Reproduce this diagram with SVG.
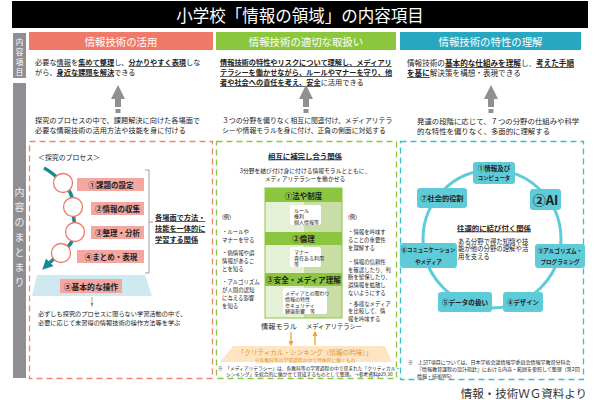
<svg xmlns="http://www.w3.org/2000/svg" width="600" height="400" viewBox="0 0 600 400">
<style>
text{font-family:"Noto Sans CJK JP","Noto Sans",sans-serif;dominant-baseline:central;fill:#222}
.b{font-weight:bold}
.u{text-decoration:underline}
.w{fill:#fff}
.hd{font-size:10.4px;fill:#fff;text-anchor:middle}
.m{text-anchor:middle}
.lab{fill:#f4a7a1}
.node{fill:#5ecbd9}
.gh{fill:#8cc63f}
.ex{font-size:5.4px}
.sb{font-size:10px;fill:#eee;text-anchor:middle}
</style>
<defs>
<marker id="ta" viewBox="0 0 10 10" refX="5" refY="5" markerWidth="3" markerHeight="3" orient="auto"><path d="M0,0 L10,5 L0,10 Z" fill="#178a94"/></marker>
<marker id="ga" viewBox="0 0 10 10" refX="8" refY="5" markerWidth="5" markerHeight="5" orient="auto"><path d="M0,1 L10,5 L0,9 Z" fill="#909090"/></marker>
<marker id="oa" viewBox="0 0 10 10" refX="8" refY="5" markerWidth="4" markerHeight="4" orient="auto"><path d="M0,0 L10,5 L0,10 Z" fill="#f0a030"/></marker>
</defs>
<rect width="600" height="400" fill="#fff"/>
<g id="title">
<rect x="12" y="1" width="576" height="27" fill="#000"/>
<text x="300" y="15" class="w m" style="font-size:16.5px">小学校「情報の領域」の内容項目</text>
</g>
<g id="sidebar">
<rect x="13" y="33" width="13" height="45" fill="#8e8e93"/>
<text class="w m" style="font-size:7.5px" x="19.5" y="41">内</text>
<text class="w m" style="font-size:7.5px" x="19.5" y="51">容</text>
<text class="w m" style="font-size:7.5px" x="19.5" y="61">項</text>
<text class="w m" style="font-size:7.5px" x="19.5" y="71">目</text>
<rect x="13" y="83" width="13" height="295" fill="#8e8e93"/>
<text class="sb" x="19.5" y="191">内</text>
<text class="sb" x="19.5" y="206">容</text>
<text class="sb" x="19.5" y="221">の</text>
<text class="sb" x="19.5" y="236">ま</text>
<text class="sb" x="19.5" y="251">と</text>
<text class="sb" x="19.5" y="266">ま</text>
<text class="sb" x="19.5" y="281">り</text>
</g>
<g id="col-left">
<rect x="29" y="32" width="184" height="18" fill="#f07a68"/>
<text class="hd" x="121" y="41">情報技術の活用</text>
<text x="35" y="62" style="font-size:7.2px">必要な<tspan class="u">情報</tspan>を<tspan class="b u">集めて整理</tspan>し、<tspan class="b u">分かりやすく表現</tspan>しな</text>
<text x="35" y="72" style="font-size:7.2px">がら、<tspan class="b u">身近な課題を解決</tspan>できる</text>
<text x="35" y="120" style="font-size:7.2px">探究のプロセスの中で、課題解決に向けた各場面で</text>
<text x="35" y="130" style="font-size:7.2px">必要な情報技術の活用方法や技能を身に付ける</text>
<rect x="29.5" y="141.5" width="183" height="237" fill="none" stroke="#f08474" stroke-width="1.3" stroke-dasharray="6,4"/>
<text x="38" y="157" style="font-size:6.9px">＜探究のプロセス＞</text>
</g>
<g id="process">
<rect class="lab" x="77" y="178" width="67" height="13"/>
<text class="b m" style="font-size:7.5px" x="111" y="184.5">①課題の設定</text>
<rect class="lab" x="91" y="202" width="53" height="13"/>
<text class="b m" style="font-size:7.5px" x="117.5" y="208.5">②情報の収集</text>
<rect class="lab" x="91" y="226" width="53" height="13"/>
<text class="b m" style="font-size:7.5px" x="117.5" y="232.5">③整理・分析</text>
<rect class="lab" x="77" y="250" width="67" height="13"/>
<text class="b m" style="font-size:7.5px" x="111" y="256.5">④まとめ・表現</text>
<path d="M145,170 H149 V273 H145 M149,222 H153" fill="none" stroke="#888" stroke-width="0.8"/>
<text class="b u" style="font-size:7.2px" x="155" y="217">各場面で方法・</text>
<text class="b u" style="font-size:7.2px" x="155" y="228">技能を一体的に</text>
<text class="b u" style="font-size:7.2px" x="155" y="239">学習する関係</text>
<polygon points="37,275 145,275 152,296 32,296" fill="#cfe9f1"/>
<rect class="lab" x="60" y="279" width="62" height="14"/>
<text class="b m" style="font-size:7.8px" x="91" y="286">⑤基本的な操作</text>
<text x="38" y="313" style="font-size:6.2px">必ずしも探究のプロセスに限らない学習活動の中で、</text>
<text x="38" y="322" style="font-size:6.2px">必要に応じて未習得の情報技術の操作方法等を学ぶ</text>
</g>
<g id="col-middle">
<rect x="216" y="32" width="180" height="18" fill="#8cc63f"/>
<text class="hd" x="306" y="41">情報技術の適切な取扱い</text>
<text x="220" y="62" style="font-size:7.2px" class="b"><tspan class="u">情報技術の特性やリスクについて理解し、メディアリ</tspan></text>
<text x="220" y="72" style="font-size:7.2px" class="b"><tspan class="u">テラシーを働かせながら、ルールやマナーを守り、他</tspan></text>
<text x="220" y="82" style="font-size:7.2px"><tspan class="b u">者や社会への責任を考え、安全</tspan>に活用できる</text>
<text x="222" y="120" style="font-size:6.85px">３つの分野を偏りなく相互に関連付け、メディアリテラ</text>
<text x="222" y="130" style="font-size:6.85px">シーや情報モラルを身に付け、正負の側面に対処する</text>
<rect x="216.5" y="141.5" width="180" height="237" fill="none" stroke="#8cc63f" stroke-width="1.3" stroke-dasharray="6,4"/>
<text class="b u m" style="font-size:7.4px" x="305" y="155">相互に補完し合う関係</text>
<text class="m" style="font-size:5.8px" x="305" y="170">3分野を結び付け身に付ける情報モラルとともに、</text>
<text class="m" style="font-size:5.8px" x="305" y="178">メディアリテラシーを働かせる</text>
</g>
<g id="fields">
<rect x="265" y="188" width="39" height="130" fill="#e6f0d6"/>
<rect x="304" y="188" width="38" height="130" fill="#c8dea6"/>
<rect x="265" y="188" width="77" height="130" fill="none" stroke="#8cc63f" stroke-width="1"/>
<rect class="gh" x="265" y="188" width="77" height="14"/>
<text class="b m" style="font-size:7.5px" x="303.5" y="195">①法や制度</text>
<rect class="gh" x="265" y="232" width="77" height="13"/>
<text class="b m" style="font-size:7.5px" x="303.5" y="238.5">②倫理</text>
<rect class="gh" x="265" y="273" width="77" height="13"/>
<text class="b m" style="font-size:7.5px" x="303.5" y="279.5">③安全・メディア理解</text>
<rect x="290" y="205" width="31" height="20" rx="2" fill="#fff"/>
<text style="font-size:5px" x="294" y="209">ルール</text>
<text style="font-size:5px" x="294" y="215">権利</text>
<text style="font-size:5px" x="294" y="221">個人情報等</text>
<rect x="290" y="247" width="31" height="20" rx="2" fill="#fff"/>
<text style="font-size:5px" x="294" y="251">マナー</text>
<text style="font-size:5px" x="294" y="257">責任ある利用</text>
<text style="font-size:5px" x="294" y="263">等</text>
<rect x="283" y="288" width="44" height="26" rx="2" fill="#fff"/>
<text style="font-size:5px" x="285" y="292">メディアとの関わり</text>
<text style="font-size:5px" x="285" y="298">情報の特性</text>
<text style="font-size:5px" x="285" y="304">セキュリティ</text>
<text style="font-size:5px" x="285" y="310">健康影響　等</text>
<text class="ex" x="222" y="217">(例)</text>
<text class="ex" x="222" y="232">・ルールや</text>
<text class="ex" x="222" y="240">マナーを守る</text>
<text class="ex" x="222" y="253">・偽情報や誤</text>
<text class="ex" x="222" y="261">情報があるこ</text>
<text class="ex" x="222" y="269">とを知る</text>
<text class="ex" x="222" y="282">・アルゴリズム</text>
<text class="ex" x="222" y="290">が人間の認知</text>
<text class="ex" x="222" y="298">に与える影響</text>
<text class="ex" x="222" y="306">を知る</text>
<text class="ex" x="348" y="217">(例)</text>
<text class="ex" x="348" y="232">・情報を吟味す</text>
<text class="ex" x="348" y="240">ることの重要性</text>
<text class="ex" x="348" y="248">を理解する</text>
<text class="ex" x="348" y="262">・情報の信頼性</text>
<text class="ex" x="348" y="269.7">を確認したり、判</text>
<text class="ex" x="348" y="277.4">断を留保したり、</text>
<text class="ex" x="348" y="285.1">誤情報を拡散し</text>
<text class="ex" x="348" y="292.8">ないようにする</text>
<text class="ex" x="348" y="303.5">・多様なメディア</text>
<text class="ex" x="348" y="311.2">を比較して、情</text>
<text class="ex" x="348" y="318.9">報を吟味する</text>
<text class="m" style="font-size:7.2px" x="279" y="326">情報モラル</text>
<text class="m" style="font-size:6.3px" x="334" y="326">メディアリテラシー</text>
<polygon points="233,346 385,346 392,362 220,362" fill="#fde5c3"/>
<text class="m" style="font-size:6.6px;fill:#e8921e" x="305" y="352">「クリティカル・シンキング（情報の吟味）」</text>
<text class="m" style="font-size:4.8px;fill:#e8921e" x="305" y="359">※各教科等の学習過程の中で具体的に働くもの</text>
<text style="font-size:4.75px" x="218" y="367">※　「メディアリテラシー」は、各教科等の学習過程の中で育まれた「クリティカル・</text>
<text style="font-size:4.75px" x="226" y="373">シンキング」を統合的に働かせて育成するものとして整理。→参考資料p29,30</text>
</g>
<g id="col-right">
<rect x="400" y="32" width="181" height="18" fill="#27a8c0"/>
<text class="hd" x="490.5" y="41">情報技術の特性の理解</text>
<text x="407" y="62" style="font-size:7.6px">情報技術の<tspan class="b u">基本的な仕組みを理解</tspan>し、<tspan class="b u">考えた手順</tspan></text>
<text x="407" y="72" style="font-size:7.6px"><tspan class="b u">を基に</tspan>解決策を構想・表現できる</text>
<text x="417" y="120" style="font-size:7.4px">発達の段階に応じて、７つの分野の仕組みや科学</text>
<text x="417" y="130" style="font-size:7.4px">的な特性を偏りなく、多面的に理解する</text>
<rect x="400.5" y="141.5" width="183" height="238" fill="none" stroke="#3dbdd0" stroke-width="1.3" stroke-dasharray="6,4"/>
<text class="b u m" style="font-size:7.4px" x="494" y="227">往還的に結び付く関係</text>
<text style="font-size:6.4px" x="458" y="241">ある分野で得た知識や技</text>
<text style="font-size:6.4px" x="458" y="248.5">能が他の分野の理解や活</text>
<text style="font-size:6.4px" x="458" y="256">用を支える</text>
<text style="font-size:5px" x="408" y="361">※　上記7項目については、日本学術会議情報学委員会情報学教育分科会</text>
<text style="font-size:5px" x="417" y="368">『情報教育課程の設計指針』における内容・範囲を参照して整理（第2回</text>
<text style="font-size:5px" x="417" y="375">情報・技術WG）</text>
</g>
<g id="connectors">
<g fill="#909090">
<polygon points="118,85 111,99 125,99"/><rect x="115" y="99" width="6" height="8"/><rect x="115.5" y="109" width="5" height="4"/>
<polygon points="306,85 299,99 313,99"/><rect x="303" y="99" width="6" height="8"/><rect x="303.5" y="109" width="5" height="4"/>
<polygon points="491,85 484,99 498,99"/><rect x="488" y="99" width="6" height="8"/><rect x="488.5" y="109" width="5" height="4"/>
</g>
<path d="M44,168 C52,172 58,178 63,183 C70,190 74,198 73,207 C72,216 76,224 75,232 C74,242 68,248 61,253 C55,258 50,262 46,266" fill="none" stroke="#178a94" stroke-width="3.5" marker-end="url(#ta)"/>
<g fill="#fff" stroke="#f07a68" stroke-width="1.3">
<circle cx="63" cy="183" r="9.5"/><circle cx="73" cy="207" r="9.5"/><circle cx="75" cy="232" r="9.5"/><circle cx="61" cy="253" r="9.5"/>
</g>
<line x1="92" y1="297" x2="92" y2="306" stroke="#909090" stroke-width="0.8" marker-end="url(#ga)"/>
<line x1="291" y1="332" x2="291" y2="345" stroke="#f0a030" stroke-width="1.3" marker-end="url(#oa)"/>
<line x1="315" y1="345" x2="315" y2="332" stroke="#f0a030" stroke-width="1.3" marker-end="url(#oa)"/>
<circle cx="492" cy="239" r="69" fill="none" stroke="#5ecbd9" stroke-width="3"/>
</g>
<g id="n1"><rect class="node" x="473" y="162" width="42" height="22" rx="3"/><text class="b m" style="font-size:6.5px" x="494" y="168">①情報及び</text><text class="b m" style="font-size:5.4px" x="494" y="178">コンピュータ</text></g>
<g id="n2"><rect class="node" x="530" y="189" width="31" height="21" rx="3"/><text class="b m" style="font-size:13px" x="545.5" y="199.5">②AI</text></g>
<g id="n3"><rect class="node" x="535" y="244" width="50" height="24" rx="3"/><text class="b m" style="font-size:5.6px" x="560" y="251">③アルゴリズム・</text><text class="b m" style="font-size:5.6px" x="560" y="262">プログラミング</text></g>
<g id="n4"><rect class="node" x="503" y="292" width="40" height="20" rx="3"/><text class="b m" style="font-size:6.3px" x="523" y="302">④デザイン</text></g>
<g id="n5"><rect class="node" x="438" y="292" width="54" height="20" rx="3"/><text class="b m" style="font-size:6.6px" x="465" y="302">⑤データの扱い</text></g>
<g id="n6"><rect class="node" x="400" y="243" width="57" height="25" rx="3"/><text class="b m" style="font-size:5.4px" x="428.5" y="250">⑥コミュニケーション</text><text class="b m" style="font-size:5.4px" x="428.5" y="262">やメディア</text></g>
<g id="n7"><rect class="node" x="417" y="188" width="50" height="20" rx="3"/><text class="b m" style="font-size:7.2px" x="442" y="198">⑦社会的役割</text></g>
<text x="587" y="393" style="font-size:11.5px;text-anchor:end;fill:#333">情報・技術ＷＧ資料より</text>
</svg>
